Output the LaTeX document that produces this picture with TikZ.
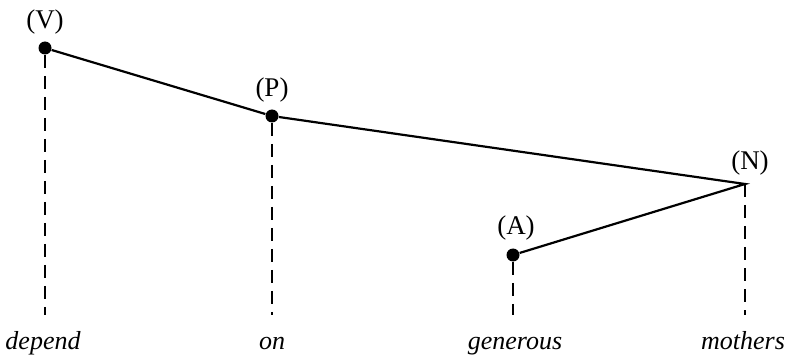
\documentclass[tikz,border=0pt]{standalone}
\usepackage{fontspec}
\setmainfont{Liberation Serif}
\tikzset{
  dot/.style={circle, fill, inner sep=0pt, minimum size=6.5pt},
  cat/.style={font=\fontsize{13.5}{15}\selectfont},
  word/.style={font=\fontsize{13}{15}\selectfont\itshape, anchor=base},
  branch/.style={line width=1.1pt},
  drop/.style={line width=1.3pt, dash pattern=on 6.5pt off 4pt}
}
\begin{document}
\begin{tikzpicture}[x=0.5pt,y=-0.5pt]
\useasboundingbox (0,0) rectangle (788,358);
% the four positions
\node[dot] (v) at (45,48) {};
\node[dot] (p) at (272,116) {};
\coordinate (n) at (745,184);
\node[dot] (a) at (513,255) {};
% categories
\node[cat] (vlab) at (45,22) {(V)};
\node[cat] (plab) at (272,90) {(P)};
\node[cat] (nlab) at (750,163) {(N)};
\node[cat] (alab) at (516,228) {(A)};
% tree lines
\draw[branch] (v) -- (p) -- (n) -- (a);
% feet of the dashed lines
\coordinate (vfoot) at (45,315);
\coordinate (pfoot) at (272,315);
\coordinate (afoot) at (513,315);
\coordinate (nfoot) at (745,315);
\draw[drop] (v) -- (vfoot);
\draw[drop] (p) -- (pfoot);
\draw[drop] (a) -- (afoot);
\draw[drop] (n) -- (nfoot);
% words
\node[word] (depend) at (43,350) {depend};
\node[word] (on) at (272,350) {on};
\node[word] (generous) at (515,350) {generous};
\node[word] (mothers) at (743,350) {mothers};
\end{tikzpicture}
\end{document}
